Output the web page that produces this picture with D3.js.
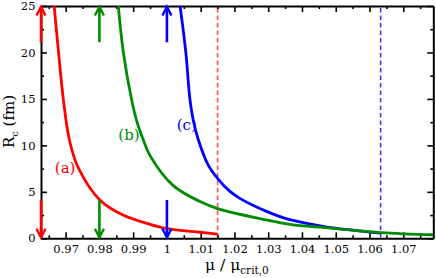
<!DOCTYPE html>
<html>
<head>
<meta charset="utf-8">
<script src="https://cdn.jsdelivr.net/npm/d3@7"></script>
<style>
  body { margin: 0; background: #fff; }
  svg text { font-family: 'DejaVu Serif', 'Liberation Serif', serif; }
</style>
</head>
<body>
<div id="chart"></div>
<script>
// curve (a)
const redMu = [0.9666, 0.9679, 0.9693, 0.9711, 0.9736, 0.9802, 0.987, 0.995, 1.0, 1.0098, 1.015]
const redR = [25, 20, 15, 10.6, 7.7, 4.1, 2.5, 1.5, 1.05, 0.65, 0.45]
// curve (b)
const greenMu = [0.9856, 0.9871, 0.9895, 0.991, 0.993, 0.995, 1.0018, 1.0098, 1.015, 1.0295, 1.0364, 1.0453, 1.0633, 1.0789]
const greenR = [25, 20, 15, 12.7, 10.6, 8.9, 5.7, 3.95, 3.2, 1.97, 1.5, 1.2, 0.62, 0.38]
// curve (c)
const blueMu = [1.0039, 1.0056, 1.0068, 1.0078, 1.0093, 1.0122, 1.0151, 1.0185, 1.0216, 1.0295, 1.0364, 1.0453, 1.0492, 1.0633]
const blueR = [25, 20, 15, 12.7, 10.6, 7.9, 6.4, 5.1, 4.3, 2.9, 2.0, 1.35, 1.12, 0.55]

const dashedMu = [1.015, 1.0633]
const arrowMu = [0.9627, 0.98, 1.0]
const arrowUp = [21.1, 25]
const arrowDown = [4.12, 0]
const curveLabels = ['(a)', '(b)', '(c)']

const xTicks = [0.97, 0.98, 0.99, 1.0, 1.01, 1.02, 1.03, 1.04, 1.05, 1.06, 1.07]
const xMinor = [0.965, 0.975, 0.985, 0.995, 1.005, 1.015, 1.025, 1.035, 1.045, 1.055, 1.065, 1.075]
const yTicks = [0, 5, 10, 15, 20, 25]
const yMinor = [2.5, 7.5, 12.5, 17.5, 22.5]

const colors = ['#ff0000', '#008b00', '#0000ff']
const width = 436
const height = 278

const x = d3.scaleLinear().domain([0.9627, 1.0789]).range([41, 433.3])
const y = d3.scaleLinear().domain([0, 25]).range([238.3, 6])

const svg = d3.select('#chart').append('svg')
  .attr('width', width)
  .attr('height', height)

svg.append('defs').append('clipPath').attr('id', 'plot')
  .append('rect')
  .attr('x', x.range()[0]).attr('y', y.range()[1])
  .attr('width', x.range()[1] - x.range()[0])
  .attr('height', y.range()[0] - y.range()[1])

function styleAxis(g, keepDomain) {
  g.attr('font-size', 11.5).attr('font-family', null)
  g.selectAll('.tick line').attr('stroke-width', 1.6)
  g.selectAll('.tick text').attr('fill', '#000')
  if (keepDomain) g.select('.domain').attr('stroke-width', 2)
  else g.select('.domain').remove()
}

// dashed limits
const dashColors = ['#ff4d4d', '#3a3aff']
svg.append('g').selectAll('line')
  .data(dashedMu)
  .join('line')
  .attr('x1', d => x(d)).attr('x2', d => x(d))
  .attr('y1', y(25) + 2).attr('y2', y(0))
  .attr('stroke', (d, i) => dashColors[i])
  .attr('stroke-width', 1.6)
  .attr('stroke-dasharray', '4.5,3')

// bottom
svg.append('g')
  .attr('transform', `translate(0,${y(0)})`)
  .call(d3.axisBottom(x).tickValues(xTicks).tickSize(-6).tickSizeOuter(0).tickPadding(6.5).tickFormat(d => +d.toFixed(2)))
  .call(g => styleAxis(g, true))
svg.append('g')
  .attr('transform', `translate(0,${y(0)})`)
  .call(d3.axisBottom(x).tickValues(xMinor).tickSize(-3).tickFormat(''))
  .call(g => styleAxis(g, false))
// top
svg.append('g')
  .attr('transform', `translate(0,${y(25)})`)
  .call(d3.axisTop(x).tickValues(xTicks).tickSize(-6).tickSizeOuter(0).tickFormat(''))
  .call(g => styleAxis(g, true))
svg.append('g')
  .attr('transform', `translate(0,${y(25)})`)
  .call(d3.axisTop(x).tickValues(xMinor).tickSize(-3).tickFormat(''))
  .call(g => styleAxis(g, false))
// left
svg.append('g')
  .attr('transform', `translate(${x.range()[0]},0)`)
  .call(d3.axisLeft(y).tickValues(yTicks).tickSize(-6).tickSizeOuter(0).tickPadding(5.5))
  .call(g => styleAxis(g, true))
svg.append('g')
  .attr('transform', `translate(${x.range()[0]},0)`)
  .call(d3.axisLeft(y).tickValues(yMinor).tickSize(-3).tickFormat(''))
  .call(g => styleAxis(g, false))
// right
svg.append('g')
  .attr('transform', `translate(${x.range()[1]},0)`)
  .call(d3.axisRight(y).tickValues(yTicks).tickSize(-6).tickSizeOuter(0).tickFormat(''))
  .call(g => styleAxis(g, true))
svg.append('g')
  .attr('transform', `translate(${x.range()[1]},0)`)
  .call(d3.axisRight(y).tickValues(yMinor).tickSize(-3).tickFormat(''))
  .call(g => styleAxis(g, false))

// curves
const line = d3.line()
  .x(d => x(d[0]))
  .y(d => y(d[1]))
  .curve(d3.curveCatmullRom.alpha(0.5))

const series = [
  { mu: redMu, r: redR, color: colors[0] },
  { mu: blueMu, r: blueR, color: colors[2] },
  { mu: greenMu, r: greenR, color: colors[1] },
]

svg.append('g')
  .attr('clip-path', 'url(#plot)')
  .selectAll('path')
  .data(series)
  .join('path')
  .attr('d', s => line(d3.zip(s.mu, s.r)))
  .attr('fill', 'none')
  .attr('stroke', s => s.color)
  .attr('stroke-width', 2.8)

// arrows
function drawArrow(g, mu, from, to, color) {
  const px = x(mu)
  const y0 = y(from)
  const y1 = y(to)
  const dir = y1 < y0 ? 1 : -1
  g.append('line')
    .attr('x1', px).attr('x2', px)
    .attr('y1', y0).attr('y2', y1 + dir)
    .attr('stroke', color)
    .attr('stroke-width', 2.6)
  g.append('path')
    .attr('d', `M${px - 4.5},${y1 + dir * 9.5}L${px},${y1 + dir * 0.8}L${px + 4.5},${y1 + dir * 9.5}`)
    .attr('fill', 'none')
    .attr('stroke', color)
    .attr('stroke-width', 2.4)
}

const arrows = svg.append('g')
arrowMu.forEach((mu, i) => {
  drawArrow(arrows, mu, arrowUp[0], arrowUp[1], colors[i])
  drawArrow(arrows, mu, arrowDown[0], arrowDown[1], colors[i])
})

// curve labels
const labelPos = [[0.9668, 7.0], [0.9856, 10.58], [1.0029, 11.65]]
svg.append('g').selectAll('text')
  .data(curveLabels)
  .join('text')
  .attr('x', (d, i) => x(labelPos[i][0]))
  .attr('y', (d, i) => y(labelPos[i][1]))
  .attr('font-size', 15)
  .attr('fill', (d, i) => colors[i])
  .text(d => d)

// axis titles
const xTitle = svg.append('text')
  .attr('x', 205)
  .attr('y', 270)
  .attr('font-size', 15.5)
xTitle.append('tspan').text('μ / μ')
xTitle.append('tspan').attr('font-size', 10.5).attr('dy', 4).text('crit,0')

const yTitle = svg.append('text')
  .attr('transform', 'translate(14,121.5) rotate(-90)')
  .attr('text-anchor', 'middle')
  .attr('font-size', 15)
yTitle.append('tspan').text('R')
yTitle.append('tspan').attr('font-size', 10).attr('dy', 4).text('c')
yTitle.append('tspan').attr('dy', -4).text(' (fm)')
</script>
</body>
</html>
